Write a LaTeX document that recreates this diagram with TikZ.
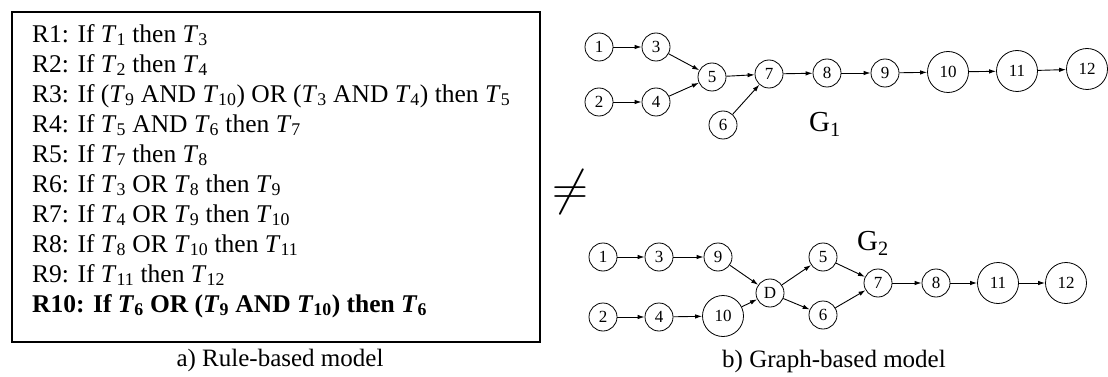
\documentclass[tikz,border=0pt]{standalone}
\usepackage{fontspec}
\setmainfont{Liberation Serif}
\usetikzlibrary{arrows.meta}
\newcommand{\tk}[1]{\textit{T}\textsubscript{#1}}

\begin{document}
\begin{tikzpicture}[x=1pt, y=-1pt, >={Latex[length=7pt,width=4.5pt]},
	task/.style={draw, circle, line width=0.8pt, inner sep=0pt, minimum size=28pt, font=\fontsize{17}{17}\selectfont},
	bigtask/.style={task, minimum size=41pt},
	link/.style={->, line width=0.9pt},
	caption/.style={font=\fontsize{25}{25}\selectfont},
	glabel/.style={font=\fontsize{29}{29}\selectfont, inner sep=0pt}]
	\useasboundingbox (0,0) rectangle (1108,377);
	% rule-based model
	\draw[line width=1.5pt] (12,12) rectangle (540,342);
	\node[anchor=west, align=left, inner sep=0pt, font=\fontsize{25.5}{30}\selectfont] (rules) at (32,171) {%
		R1: If \tk{1} then \tk{3}\\
		R2: If \tk{2} then \tk{4}\\
		R3: If (\tk{9} AND \tk{10}) OR (\tk{3} AND \tk{4}) then \tk{5}\\
		R4: If \tk{5} AND \tk{6} then \tk{7}\\
		R5: If \tk{7} then \tk{8}\\
		R6: If \tk{3} OR \tk{8} then \tk{9}\\
		R7: If \tk{4} OR \tk{9} then \tk{10}\\
		R8: If \tk{8} OR \tk{10} then \tk{11}\\
		R9: If \tk{11} then \tk{12}\\
		\textbf{R10: If \tk{6} OR (\tk{9} AND \tk{10}) then \tk{6}}};
	\node[caption] (capa) at (280,360) {a) Rule-based model};
	\node[font=\fontsize{25}{25}\selectfont, scale=2] (neq) at (570,192) {$\neq$};
	% graph G1
	\node[task] (a1) at (599,47) {1};
	\node[task] (a3) at (656,47) {3};
	\node[task] (a2) at (599,102) {2};
	\node[task] (a4) at (656,102) {4};
	\node[task] (a5) at (712,77) {5};
	\node[task] (a6) at (723,125) {6};
	\node[task] (a7) at (769,74) {7};
	\node[task] (a8) at (827,73) {8};
	\node[task] (a9) at (885,73) {9};
	\node[bigtask] (a10) at (948,72) {10};
	\node[bigtask] (a11) at (1017,71) {11};
	\node[bigtask] (a12) at (1087,69) {12};
	\node[glabel] (g1) at (825,124) {G\textsubscript{1}};
	\draw[link] (a1) -- (a3);
	\draw[link] (a2) -- (a4);
	\draw[link] (a3) -- (a5);
	\draw[link] (a4) -- (a5);
	\draw[link] (a5) -- (a7);
	\draw[link] (a6) -- (a7);
	\draw[link] (a7) -- (a8);
	\draw[link] (a8) -- (a9);
	\draw[link] (a9) -- (a10);
	\draw[link] (a10) -- (a11);
	\draw[link] (a11) -- (a12);
	% graph G2
	\node[task] (b1) at (603,257) {1};
	\node[task] (b3) at (659,257) {3};
	\node[task] (b9) at (718,257) {9};
	\node[task] (b2) at (603,317) {2};
	\node[task] (b4) at (659,317) {4};
	\node[bigtask] (b10) at (723,316) {10};
	\node[task] (bD) at (770,293) {D};
	\node[task] (b5) at (823,257) {5};
	\node[task] (b6) at (823,315) {6};
	\node[task] (b7) at (878,283) {7};
	\node[task] (b8) at (936,283) {8};
	\node[bigtask] (b11) at (998,283) {11};
	\node[bigtask] (b12) at (1066,283) {12};
	\node[glabel] (g2) at (873,243) {G\textsubscript{2}};
	\draw[link] (b1) -- (b3);
	\draw[link] (b3) -- (b9);
	\draw[link] (b2) -- (b4);
	\draw[link] (b4) -- (b10);
	\draw[link] (b9) -- (bD);
	\draw[link] (b10) -- (bD);
	\draw[link] (bD) -- (b5);
	\draw[link] (bD) -- (b6);
	\draw[link] (b5) -- (b7);
	\draw[link] (b6) -- (b7);
	\draw[link] (b7) -- (b8);
	\draw[link] (b8) -- (b11);
	\draw[link] (b11) -- (b12);
	\node[caption] (capb) at (834,361) {b) Graph-based model};
\end{tikzpicture}
\end{document}
